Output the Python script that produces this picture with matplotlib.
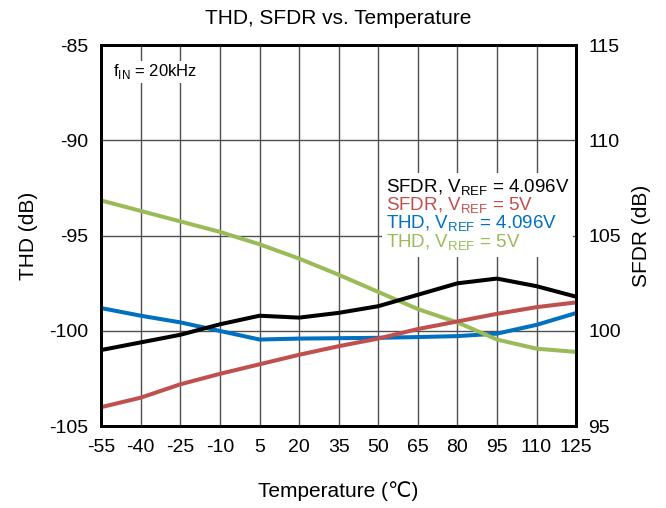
import matplotlib
matplotlib.use('Agg')
import matplotlib.pyplot as plt

plt.rcParams['font.family'] = ['Liberation Sans', 'DejaVu Sans']
plt.rcParams['mathtext.fontset'] = 'custom'
plt.rcParams['mathtext.rm'] = 'Liberation Sans'
plt.rcParams['axes.unicode_minus'] = False

# Temperature points (deg C)
temps = [-55, -40, -25, -10, 5, 20, 35, 50, 65, 80, 95, 110, 125]

# SFDR (right axis, dB)
sfdr_4096 = [99.0, 99.4, 99.8, 100.35, 100.8, 100.7, 100.95, 101.3, 101.9, 102.5, 102.75, 102.35, 101.8]
sfdr_5v = [96.0, 96.5, 97.2, 97.75, 98.25, 98.75, 99.2, 99.6, 100.1, 100.5, 100.9, 101.25, 101.5]
# THD (left axis, dB)
thd_4096 = [-98.8, -99.2, -99.55, -100.0, -100.45, -100.4, -100.38, -100.36, -100.32, -100.27, -100.14, -99.68, -99.06]
thd_5v = [-93.15, -93.7, -94.25, -94.8, -95.45, -96.2, -97.05, -97.95, -98.85, -99.55, -100.45, -100.93, -101.1]

x_ticks = [-55, -40, -25, -10, 5, 20, 35, 50, 65, 80, 95, 110, 125]
thd_ticks = [-105, -100, -95, -90, -85]
sfdr_ticks = [95, 100, 105, 110, 115]

black = '#000000'
red = '#C0504D'
blue = '#0070C0'
green = '#9BBB59'

fig = plt.figure(figsize=(6.66, 5.08), dpi=100)
ax = fig.add_axes([0.152, 0.161, 0.713, 0.75])
ax2 = ax.twinx()

ax.set_xlim(-55, 125)
ax.set_ylim(-105, -85)
ax2.set_ylim(95, 115)
ax.set_xticks(x_ticks)
ax.set_yticks(thd_ticks)
ax2.set_yticks(sfdr_ticks)

ax.grid(True, color='#505050', linewidth=1.0)
ax.set_axisbelow(True)

lw = 2.9
l3, = ax.plot(temps, thd_4096, color=blue, lw=lw, label=r'THD, V$_{\mathrm{REF}}$ = 4.096V', zorder=3)
l4, = ax.plot(temps, thd_5v, color=green, lw=lw, label=r'THD, V$_{\mathrm{REF}}$ = 5V', zorder=3)
l1, = ax2.plot(temps, sfdr_4096, color=black, lw=lw, label=r'SFDR, V$_{\mathrm{REF}}$ = 4.096V')
l2, = ax2.plot(temps, sfdr_5v, color=red, lw=lw, label=r'SFDR, V$_{\mathrm{REF}}$ = 5V')

for a in (ax, ax2):
    for s in a.spines.values():
        s.set_linewidth(2)
        s.set_color('black')
    a.tick_params(length=0, labelsize=14, pad=9)

leg = ax2.legend(handles=[l1, l2, l3, l4], loc='upper left', bbox_to_anchor=(0.572, 0.688),
                 handlelength=0, handletextpad=0, frameon=True, fancybox=False,
                 edgecolor='none', facecolor='white', framealpha=1, fontsize=13.5,
                 labelspacing=-0.1, borderpad=0.2, labelcolor='linecolor')
for h in leg.legend_handles:
    h.set_visible(False)

ax.text(-50.5, -86.4, r'f$_{\mathrm{IN}}$ = 20kHz', fontsize=12, va='center', ha='left',
        bbox=dict(facecolor='white', edgecolor='none', pad=1), zorder=5)

ax.set_title('THD, SFDR vs. Temperature', fontsize=15, pad=15)
ax.set_xlabel('Temperature (℃)', fontsize=15, labelpad=18)
ax.set_ylabel('THD (dB)', fontsize=15, labelpad=8)
ax2.set_ylabel('SFDR (dB)', fontsize=15, labelpad=8)

fig.savefig('out.png', dpi=100)
